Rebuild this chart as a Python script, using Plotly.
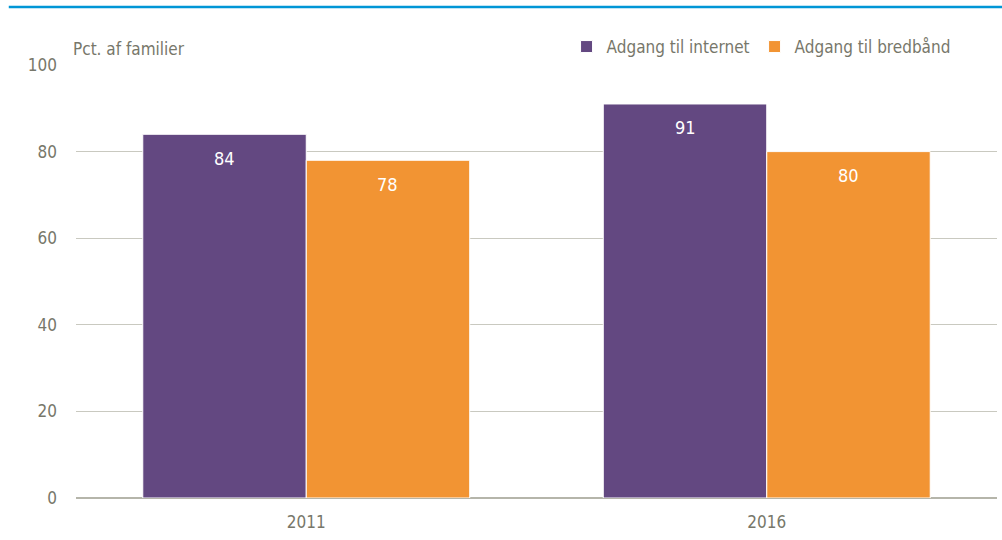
import plotly.graph_objects as go

years = ["2011", "2016"]
internet = [84, 91]
bredbaand = [78, 80]
series_names = ["Adgang til internet", "Adgang til bredbånd"]
y_ticks = [0, 20, 40, 60, 80, 100]

FONT = "Liberation Sans Narrow, DejaVu Sans Condensed, Arial Narrow, sans-serif"
GREY = "#77776a"
colors = ["#634881", "#f29433"]

fig = go.Figure()
for name, vals, col in [(series_names[0], internet, colors[0]), (series_names[1], bredbaand, colors[1])]:
    fig.add_trace(go.Bar(x=years, y=vals, name=name,
                         marker=dict(color=col, line=dict(color="white", width=1))))

# value labels (x given as category index)
for vals, shift in [(internet, -81.5), (bredbaand, 81.5)]:
    for idx, v in enumerate(vals):
        fig.add_annotation(x=idx, y=v, text=str(v), xref="x", yref="y", showarrow=False,
                           xshift=shift, yshift=-24,
                           font=dict(color="white", size=18, family=FONT))

fig.update_layout(
    width=1002, height=540,
    margin=dict(l=76, r=5, t=65, b=42),
    paper_bgcolor="white", plot_bgcolor="white",
    barmode="group", bargap=0.29, bargroupgap=0,
    font=dict(family=FONT, color=GREY, size=17),
    showlegend=True,
    legend=dict(orientation="h", x=0.955, xanchor="right", y=1.0, yanchor="bottom",
                font=dict(size=17, color=GREY, family=FONT), traceorder="normal"),
    xaxis=dict(type="category", range=[-0.5, 1.5], showgrid=False, showline=False, ticks="",
               tickfont=dict(size=17, color=GREY), ticklabelstandoff=12),
    yaxis=dict(range=[0, 100], tickvals=y_ticks, showgrid=True, gridcolor="#c9c9c0", gridwidth=1,
               zeroline=True, zerolinecolor="#b5b5aa", zerolinewidth=1.5,
               tickfont=dict(size=17, color=GREY), ticks="", ticklabelstandoff=18),
)
fig.add_annotation(text="Pct. af familier", xref="paper", yref="paper", x=-0.005, y=1.0,
                   xanchor="left", yanchor="bottom", yshift=4, showarrow=False,
                   font=dict(size=17, color=GREY, family=FONT))
fig.add_shape(type="line", xref="paper", yref="paper", x0=-0.073, x1=1.01, y0=1.134, y1=1.134,
              line=dict(color="#0096d6", width=2.5))

fig.write_html("out.html", config={"displayModeBar": False},
               post_script="document.body.style.margin='0';")
